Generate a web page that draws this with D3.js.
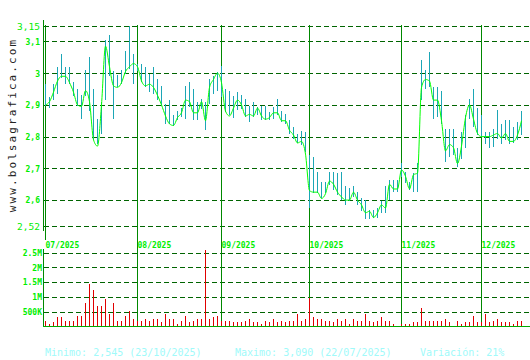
<!DOCTYPE html>
<html>
<head>
<meta charset="utf-8">
<script src="https://cdn.jsdelivr.net/npm/d3@7"></script>
<style>
  html, body { margin: 0; padding: 0; background: #fff; }
  svg { display: block; }
</style>
</head>
<body>
<svg id="chart" width="530" height="360"></svg>
<script>
const width = 530;
const height = 360;

// month labels and the trading-day index where each month starts
const monthLabels = ["07/2025", "08/2025", "09/2025", "10/2025", "11/2025", "12/2025"];
const monthStart = [0, 23, 44, 66, 89, 109];

// daily close, one per trading day (01/07/2025 .. 12/12/2025)
const closes = [
  2.90, 2.91, 2.94, 2.975, 2.99, 2.99, 2.97, 2.94, 2.90, 2.895,
  2.945, 2.91, 2.79, 2.77, 2.90, 3.085, 3.02, 2.96, 2.955, 2.97,
  3.005, 3.02, 3.03, 3.02, 2.975, 2.96, 2.965, 2.955, 2.93, 2.90,
  2.865, 2.84, 2.835, 2.86, 2.875, 2.915, 2.91, 2.875, 2.875, 2.91,
  2.85, 2.955, 2.98, 3.00, 2.97, 2.88, 2.865, 2.89, 2.915, 2.90,
  2.865, 2.87, 2.865, 2.89, 2.865, 2.855, 2.86, 2.875, 2.875, 2.85,
  2.85, 2.82, 2.805, 2.78, 2.785, 2.745, 2.63, 2.625, 2.625, 2.605,
  2.62, 2.66, 2.65, 2.625, 2.61, 2.60, 2.60, 2.625, 2.60, 2.585,
  2.56, 2.565, 2.545, 2.56, 2.585, 2.575, 2.65, 2.635, 2.635, 2.695,
  2.675, 2.635, 2.68, 2.685, 2.955, 2.98, 2.975, 2.915, 2.915, 2.85,
  2.755, 2.775, 2.765, 2.715, 2.77, 2.86, 2.90, 2.855, 2.81, 2.80,
  2.80, 2.80, 2.805, 2.81, 2.795, 2.81, 2.785, 2.785, 2.805, 2.85
];

const highs = [
  2.965, 2.925, 2.965, 3.018, 3.059, 3.018, 3.018, 2.971, 2.95, 2.932,
  3.009, 3.051, 2.95, 2.856, 2.908, 3.103, 3.12, 3.007, 2.995, 3.009,
  3.07, 3.148, 3.059, 3.03, 3.03, 3.018, 2.997, 3.018, 2.981, 2.96,
  2.903, 2.916, 2.867, 2.882, 2.891, 2.96, 2.971, 2.95, 2.908, 2.919,
  2.908, 2.981, 2.992, 3.002, 3.023, 2.95, 2.945, 2.929, 2.942, 2.932,
  2.919, 2.898, 2.908, 2.893, 2.898, 2.898, 2.877, 2.893, 2.917, 2.882,
  2.872, 2.851, 2.83, 2.809, 2.817, 2.815, 2.742, 2.736, 2.69, 2.658,
  2.658, 2.69, 2.69, 2.684, 2.69, 2.643, 2.638, 2.643, 2.627, 2.606,
  2.601, 2.57, 2.568, 2.575, 2.596, 2.643, 2.664, 2.664, 2.664, 2.716,
  2.69, 2.658, 2.684, 2.716, 3.041, 3.009, 3.067, 2.955, 2.955, 2.945,
  2.825, 2.825, 2.825, 2.763, 2.815, 2.867, 2.919, 2.95, 2.891, 2.867,
  2.815, 2.815, 2.825, 2.884, 2.841, 2.851, 2.851, 2.83, 2.846, 2.882
];

const lows = [
  2.895, 2.891, 2.915, 2.934, 2.986, 2.966, 2.966, 2.929, 2.898, 2.856,
  2.929, 2.882, 2.789, 2.778, 2.809, 2.914, 2.992, 2.854, 2.955, 2.966,
  2.997, 3.013, 2.966, 3.007, 2.971, 2.955, 2.94, 2.934, 2.914, 2.898,
  2.841, 2.841, 2.835, 2.851, 2.861, 2.854, 2.893, 2.851, 2.851, 2.888,
  2.82, 2.903, 2.934, 2.945, 2.924, 2.877, 2.867, 2.859, 2.884, 2.888,
  2.861, 2.846, 2.861, 2.867, 2.851, 2.851, 2.851, 2.856, 2.867, 2.846,
  2.841, 2.809, 2.794, 2.78, 2.773, 2.752, 2.575, 2.622, 2.622, 2.606,
  2.622, 2.648, 2.632, 2.617, 2.601, 2.585, 2.596, 2.611, 2.585, 2.565,
  2.54, 2.54, 2.544, 2.544, 2.559, 2.559, 2.601, 2.627, 2.627, 2.674,
  2.653, 2.632, 2.627, 2.627, 2.914, 2.95, 2.955, 2.856, 2.861, 2.841,
  2.721, 2.736, 2.742, 2.705, 2.731, 2.763, 2.856, 2.83, 2.804, 2.799,
  2.778, 2.765, 2.768, 2.794, 2.778, 2.789, 2.778, 2.78, 2.789, 2.804
];

// daily volume, millions of shares
const volumes = [
  0.20, 0.10, 0.14, 0.31, 0.31, 0.17, 0.17, 0.20, 0.34, 0.34,
  0.78, 1.43, 1.22, 0.68, 0.68, 0.92, 0.41, 0.81, 0.17, 0.20,
  0.37, 0.54, 0.27, 0.20, 0.17, 0.27, 0.17, 0.27, 0.27, 0.14,
  0.41, 0.27, 0.27, 0.10, 0.20, 0.37, 0.14, 0.20, 0.24, 0.24,
  2.58, 0.27, 0.31, 0.34, 0.20, 0.17, 0.20, 0.14, 0.14, 0.14,
  0.17, 0.27, 0.14, 0.14, 0.10, 0.20, 0.14, 0.24, 0.14, 0.17,
  0.14, 0.17, 0.17, 0.41, 0.17, 0.27, 0.95, 0.31, 0.24, 0.24,
  0.17, 0.17, 0.14, 0.24, 0.17, 0.24, 0.10, 0.24, 0.17, 0.17,
  0.41, 0.20, 0.14, 0.17, 0.31, 0.17, 0.17, 0.10, 0.03, 0.10,
  0.10, 0.07, 0.14, 0.14, 0.61, 0.17, 0.17, 0.17, 0.17, 0.17,
  0.24, 0.14, 0.03, 0.17, 0.10, 0.14, 0.14, 0.34, 0.14, 0.14,
  0.41, 0.14, 0.17, 0.24, 0.14, 0.14, 0.14, 0.10, 0.20, 0.20
];

const priceTicks = [3.15, 3.1, 3.0, 2.9, 2.8, 2.7, 2.6, 2.52];
const priceTickLabels = ["3,15", "3,1", "3", "2,9", "2,8", "2,7", "2,6", "2,52"];
const volTicks = [0.5, 1, 1.5, 2, 2.5];
const volTickLabels = ["500K", "1M", "1.5M", "2M", "2.5M"];

const footer = ["Minimo: 2,545 (23/10/2025)", "Maximo: 3,090 (22/07/2025)", "Variación: 21%"];

const svg = d3.select("#chart");
const left = 44;

const x = d3.scaleLinear().domain([0, closes.length - 1]).range([45.5, 45.5 + 4 * (closes.length - 1)]);
const y = d3.scaleLinear().domain([2.52, 3.15]).range([225.5, 25.5]);
const yv = d3.scaleLinear().domain([0, 2.5]).range([326.5, 252.5]);

const gridColor = "#006400";
const monthColor = "#008800";
const labelColor = "#00ee00";

// ---------- price panel grid + labels ----------
const yAxis = d3.axisLeft(y)
    .tickValues(priceTicks)
    .tickSize(-(width - left))
    .tickPadding(4)
    .tickFormat((d, i) => priceTickLabels[i]);

const gy = svg.append("g").attr("transform", `translate(${left},0)`).call(yAxis);
gy.select(".domain").remove();
gy.selectAll(".tick line")
    .attr("stroke", gridColor)
    .attr("stroke-dasharray", "5,3")
    .attr("shape-rendering", "crispEdges");
gy.selectAll(".tick text")
    .attr("fill", labelColor)
    .attr("font-family", "DejaVu Sans Mono")
    .attr("font-size", (d, i) => (i === 0 || i === priceTicks.length - 1) ? 9.5 : 8)
    .attr("font-weight", (d, i) => (i === 0 || i === priceTicks.length - 1) ? "normal" : "bold")
    .attr("dy", (d, i) => (i === 0 || i === priceTicks.length - 1) ? "0.45em" : "0.36em");

// ---------- volume panel grid + labels ----------
const vAxis = d3.axisLeft(yv)
    .tickValues(volTicks)
    .tickSize(-(width - left))
    .tickPadding(2)
    .tickFormat((d, i) => volTickLabels[i]);

const gv = svg.append("g").attr("transform", `translate(${left},0)`).call(vAxis);
gv.select(".domain").remove();
gv.selectAll(".tick line")
    .attr("stroke", gridColor)
    .attr("stroke-dasharray", "5,3")
    .attr("shape-rendering", "crispEdges");
gv.selectAll(".tick text")
    .attr("fill", labelColor)
    .attr("font-family", "DejaVu Sans Mono")
    .attr("font-size", 8)
    .attr("font-weight", "bold")
    .attr("dy", "0.36em");

// left axis lines
svg.append("line")
    .attr("x1", 43.5).attr("x2", 43.5).attr("y1", 20).attr("y2", 231)
    .attr("stroke", monthColor);
svg.append("line")
    .attr("x1", 43.5).attr("x2", 43.5).attr("y1", 249).attr("y2", 327)
    .attr("stroke", monthColor);

// month separators
const months = svg.append("g");
months.selectAll("line")
    .data(monthStart)
    .enter().append("line")
    .attr("x1", d => x(d))
    .attr("x2", d => x(d))
    .attr("y1", 25)
    .attr("y2", (d, i) => i === 0 ? 240 : 326)
    .attr("stroke", monthColor)
    .attr("shape-rendering", "crispEdges");

months.selectAll("text")
    .data(monthStart)
    .enter().append("text")
    .attr("x", d => x(d))
    .attr("y", 247.5)
    .attr("fill", labelColor)
    .attr("font-family", "DejaVu Sans Mono")
    .attr("font-size", 8)
    .attr("font-weight", "bold")
    .text((d, i) => monthLabels[i]);

// volume baseline
svg.append("line")
    .attr("x1", 43).attr("x2", width).attr("y1", 326.5).attr("y2", 326.5)
    .attr("stroke", "#00aa00");

// ---------- high/low bars ----------
svg.append("g")
    .selectAll("line")
    .data(closes)
    .enter().append("line")
    .attr("x1", (d, i) => x(i))
    .attr("x2", (d, i) => x(i))
    .attr("y1", (d, i) => y(highs[i]))
    .attr("y2", (d, i) => y(lows[i]))
    .attr("stroke", "#1ca6b6")
    .attr("shape-rendering", "crispEdges");

// ---------- close line ----------
const line = d3.line()
    .x((d, i) => x(i))
    .y(d => y(d))
    .curve(d3.curveMonotoneX);

svg.append("path")
    .datum(closes)
    .attr("d", line)
    .attr("fill", "none")
    .attr("stroke", "#00ff00")
    .attr("stroke-width", 1);

// ---------- volume bars ----------
svg.append("g")
    .selectAll("line")
    .data(volumes)
    .enter().append("line")
    .attr("x1", (d, i) => x(i))
    .attr("x2", (d, i) => x(i))
    .attr("y1", d => yv(d))
    .attr("y2", yv(0) - 1)
    .attr("stroke", "#e00000")
    .attr("shape-rendering", "crispEdges");

// ---------- watermark ----------
svg.append("text")
    .attr("transform", "translate(16,125) rotate(-90)")
    .attr("text-anchor", "middle")
    .attr("fill", "#222")
    .attr("font-family", "DejaVu Sans Mono")
    .attr("font-size", 11)
    .attr("letter-spacing", 2.1)
    .text("www.bolsagrafica.com");

// ---------- footer ----------
svg.append("g")
    .selectAll("text")
    .data(footer)
    .enter().append("text")
    .attr("x", (d, i) => [45, 235, 420][i])
    .attr("y", 356)
    .attr("fill", "#a0fafa")
    .attr("font-family", "DejaVu Sans Mono")
    .attr("font-size", 10)
    .text(d => d);
</script>
</body>
</html>
